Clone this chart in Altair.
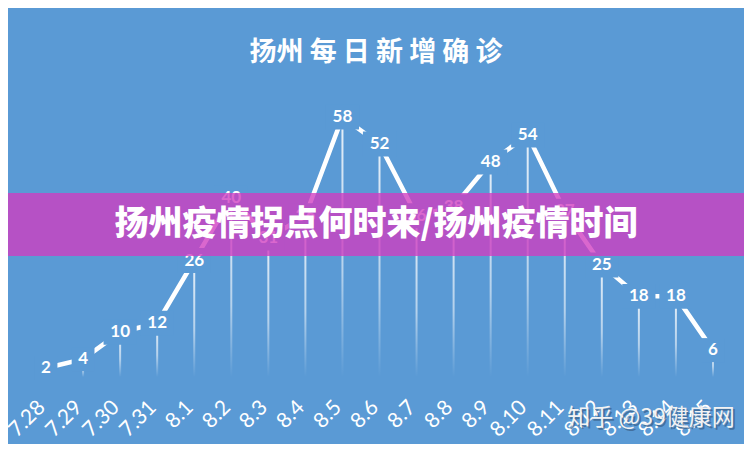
import altair as alt
import pandas as pd

dates = ["7.28", "7.29", "7.30", "7.31", "8.1", "8.2", "8.3", "8.4", "8.5", "8.6",
         "8.7", "8.8", "8.9", "8.10", "8.11", "8.12", "8.13", "8.14", "8.15"]
cases = [2, 4, 10, 12, 26, 40, 31, 36, 58, 52, 36, 38, 48, 54, 37, 25, 18, 18, 6]

chart_title = "扬州 每 日 新 增 确 诊"
banner_text = "扬州疫情拐点何时来/扬州疫情时间"
watermark = "知乎 @39健康网"

BG = "#5A9AD5"
W, H = 736, 436

df = pd.DataFrame({"d": dates, "v": cases})

xenc = alt.X("d:N", sort=dates, title=None,
             scale=alt.Scale(range=[19.5, 723.5]),
             axis=alt.Axis(labelAngle=-45, labelAlign="right", labelBaseline="middle",
                           labelColor="white", labelFontSize=21, labelFont="Lato",
                           domain=False, ticks=False, grid=False, labelPadding=2,
                           offset=-42, labelOffset=-4, labelOverlap=False))
yscale = alt.Scale(domain=[-14.96, 82.37], nice=False, zero=False)
yenc = alt.Y("v:Q", scale=yscale, axis=None)

base = alt.Chart(df)

drops = base.mark_bar(
    size=2,
    color=alt.Gradient(
        gradient="linear",
        stops=[alt.GradientStop(color="rgba(255,255,255,0.85)", offset=0),
               alt.GradientStop(color="rgba(255,255,255,0.55)", offset=0.6),
               alt.GradientStop(color="rgba(255,255,255,0.0)", offset=1)],
        x1=0, x2=0, y1=0, y2=1),
).encode(x=xenc, y=yenc, y2=alt.datum(0))

line = base.mark_line(color="white", strokeWidth=4.5, strokeCap="butt").encode(x=xenc, y=yenc)

bg_one = base.transform_filter("datum.v < 10").mark_point(
    shape="M-0.95,-1H0.95V1H-0.95Z", filled=True, fill=BG, opacity=1, strokeWidth=0, size=576
).encode(x=xenc, y=yenc)
bg_two = base.transform_filter("datum.v >= 10").mark_point(
    shape="M-1,-0.75H1V0.75H-1Z", filled=True, fill=BG, opacity=1, strokeWidth=0, size=1100
).encode(x=xenc, y=yenc)

labels = base.mark_text(color="white", fontSize=17, fontWeight="bold", font="Lato",
                        baseline="middle", align="center").encode(
    x=xenc, y=yenc, text="v:Q")

one = pd.DataFrame({"t": [chart_title], "b": [banner_text], "w": [watermark]})

title_mark = alt.Chart(one).mark_text(
    color="white", fontSize=27, fontWeight="bold", font="Noto Sans CJK SC",
    align="center", baseline="middle"
).encode(x=alt.value(368), y=alt.value(45), text="t:N")

banner = alt.Chart(one).mark_rect(color="#D03CC0", opacity=0.78).encode(
    x=alt.value(0), x2=alt.value(W), y=alt.value(185), y2=alt.value(248))

banner_txt = alt.Chart(one).mark_text(
    color="white", fontSize=34, fontWeight=900, font="Noto Sans CJK SC",
    align="center", baseline="middle"
).encode(x=alt.value(368), y=alt.value(217), text="b:N")

wm_shadow = alt.Chart(one).mark_text(
    color="#3a5f88", fontSize=23, font="Noto Sans CJK SC", align="center",
    baseline="middle", opacity=0.7
).encode(x=alt.value(645), y=alt.value(412), text="w:N")
wm = alt.Chart(one).mark_text(
    color="#f2f2f2", fontSize=23, font="Noto Sans CJK SC", align="center",
    baseline="middle"
).encode(x=alt.value(643), y=alt.value(410), text="w:N")

chart = alt.layer(
    drops, line, bg_one, bg_two, labels, title_mark, banner, banner_txt, wm_shadow, wm
).properties(
    width=W, height=H, background=BG, padding=0,
    autosize=alt.AutoSizeParams(type="none")
).configure_view(strokeWidth=0, fill=BG)

chart.save("out.html", embed_options={"renderer": "svg", "actions": False})
